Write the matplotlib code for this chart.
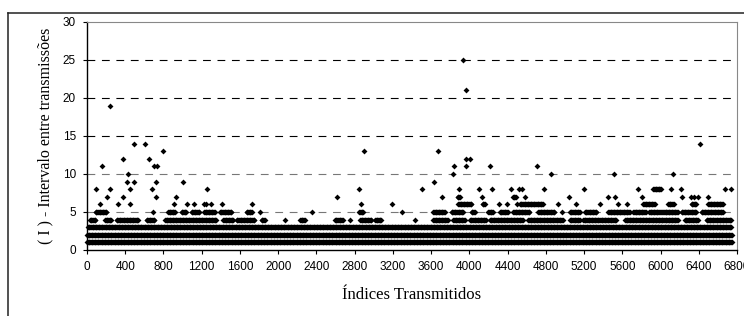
import numpy as np
import matplotlib
matplotlib.use("Agg")
import matplotlib.pyplot as plt
from matplotlib.lines import Line2D

# faixas (inicio, fim) de indices onde cada valor de intervalo aparece
nivel_1 = [(0, 6750)]
nivel_2 = [(0, 6750)]
nivel_3 = [(10, 6745)]
nivel_4 = [(31, 91), (188, 258), (310, 537), (624, 711), (816, 1357), (1426, 1530),
           (1566, 1757), (1827, 1862), (2071, 2071), (2228, 2280), (2594, 2681),
           (2751, 2751), (2856, 2978), (3013, 3083), (3431, 3431), (3622, 3779),
           (3832, 3954), (4006, 4180), (4215, 4560), (4616, 4982), (5052, 5157),
           (5191, 5540), (5628, 6185), (6255, 6394), (6482, 6743)]
nivel_5 = [(91, 206), (687, 687), (848, 920), (990, 1043), (1095, 1182), (1224, 1339),
           (1391, 1513), (1670, 1733), (1810, 1810), (2350, 2350), (2848, 2890),
           (3291, 3291), (3622, 3745), (3815, 3937), (4024, 4059), (4198, 4250),
           (4320, 4407), (4459, 4633), (4721, 4895), (4965, 4965), (5052, 5157),
           (5209, 5331), (5453, 5680), (5715, 5850), (5880, 6000), (6020, 6185),
           (6220, 6377), (6429, 6656)]
nivel_6 = [(136, 136), (321, 321), (450, 450), (913, 913), (1046, 1046), (1122, 1122),
           (1224, 1224), (1245, 1245), (1297, 1297), (1409, 1409), (1729, 1729),
           (2866, 2866), (3190, 3190), (3884, 4024), (4139, 4163), (4313, 4313),
           (4390, 4390), (4501, 4501), (4529, 4773), (4923, 4923), (5111, 5111),
           (5366, 5366), (5551, 5551), (5645, 5645), (5819, 5941), (6080, 6140),
           (6325, 6377), (6499, 6656)]
nivel_7 = [(206, 206), (380, 380), (725, 725), (934, 934), (2615, 2615), (3710, 3710),
           (3877, 3901), (4128, 4128), (4456, 4494), (4581, 4581), (5042, 5042),
           (5453, 5453), (5523, 5523), (5811, 5811), (6226, 6226), (6314, 6314),
           (6350, 6350), (6394, 6394), (6492, 6492)]
nivel_8 = [(91, 91), (240, 240), (450, 450), (677, 677), (1252, 1252), (2848, 2848),
           (3501, 3501), (3888, 3888), (4097, 4097), (4236, 4236), (4432, 4432),
           (4520, 4520), (4546, 4546), (4783, 4783), (5202, 5202), (5767, 5767),
           (5924, 6011), (6105, 6105), (6210, 6210), (6674, 6674), (6733, 6733)]

# pontos isolados com intervalo maior
altos_x = [415, 488, 725, 1007, 3633, 432, 3829, 4850, 5512, 6133, 160, 704, 728,
           3836, 3964, 4215, 4710, 373, 649, 3964, 4009, 798, 2897, 3668,
           495, 610, 6412, 240, 3964, 3937]
altos_y = [9, 9, 9, 9, 9, 10, 10, 10, 10, 10, 11, 11, 11,
           11, 11, 11, 11, 12, 12, 12, 12, 13, 13, 13,
           14, 14, 14, 19, 21, 25]

xticks = list(range(0, 6801, 400))
yticks = [0, 5, 10, 15, 20, 25, 30]

niveis = {1: nivel_1, 2: nivel_2, 3: nivel_3, 4: nivel_4,
          5: nivel_5, 6: nivel_6, 7: nivel_7, 8: nivel_8}

xs, ys = [], []
for v, faixas in niveis.items():
    for a, b in faixas:
        idx = np.arange(a, b + 1, 8)
        xs.extend(idx)
        ys.extend([v] * len(idx))
xs.extend(altos_x)
ys.extend(altos_y)

fig = plt.figure(figsize=(7.44, 3.16), dpi=100)
ax = fig.add_axes([87 / 744, 1 - 250 / 316, 650 / 744, 228 / 316])

for y in yticks[1:-1]:
    cor = "#777777" if y <= 10 else "black"
    ax.axhline(y, color=cor, lw=0.8, linestyle=(0, (7, 6)), zorder=1)

ax.plot(xs, ys, linestyle="none", marker="D", markersize=3.0, color="black",
        markeredgewidth=0, zorder=3, clip_on=False)

ax.set_xlim(0, 6800)
ax.set_ylim(0, 30)
ax.set_xticks(xticks)
ax.set_xticklabels([str(t) for t in xticks], fontsize=8.5, family="Liberation Sans")
ax.set_yticks(yticks)
ax.set_yticklabels([str(t) for t in yticks], fontsize=8.5, family="Liberation Sans")
ax.tick_params(direction="out", length=3, width=0.8, pad=5)

for s in ["left", "bottom"]:
    ax.spines[s].set_color("black")
    ax.spines[s].set_linewidth(1.0)
for s in ["top", "right"]:
    ax.spines[s].set_color("#888888")
    ax.spines[s].set_linewidth(0.8)

fig.text(45 / 744, 1 - 136 / 316, "( I ) - Intervalo entre transmissões",
         rotation=90, ha="center", va="center", fontsize=11.5, family="Liberation Serif")
fig.text(412 / 744, 1 - 295 / 316, "Índices Transmitidos",
         ha="center", va="center", fontsize=12, family="Liberation Serif")

# moldura externa
fig.add_artist(Line2D([8 / 744, 8 / 744], [0, 1 - 13 / 316], transform=fig.transFigure,
                      color="#222222", lw=1.1))
fig.add_artist(Line2D([8 / 744, 1], [1 - 13 / 316, 1 - 13 / 316], transform=fig.transFigure,
                      color="#222222", lw=1.1))

fig.savefig("out.png", dpi=100)
